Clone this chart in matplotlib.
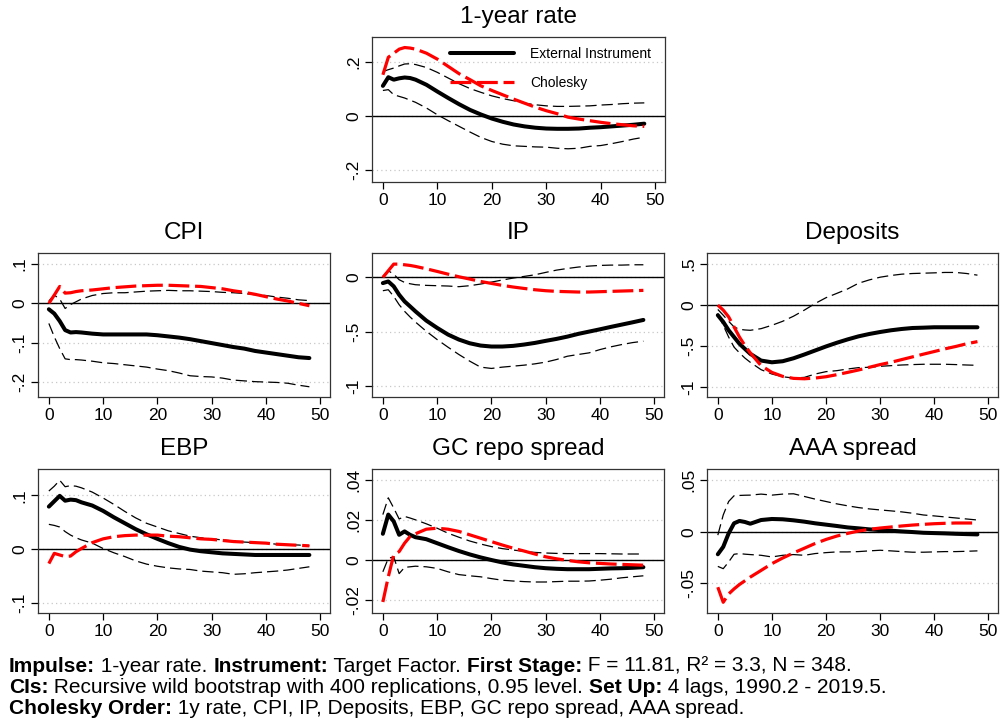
import matplotlib
matplotlib.use("Agg")
import matplotlib.pyplot as plt

plt.rcParams["font.family"] = ["Liberation Sans", "DejaVu Sans"]

# horizons (months)
horizon = [0, 1, 2, 3, 4, 5, 6] + list(range(8, 49, 2))

# 1-year rate
rate_ext = [0.112, 0.144, 0.135, 0.140, 0.143, 0.141, 0.135, 0.116, 0.091, 0.067, 0.044, 0.023, 0.006, -0.009,
            -0.021, -0.031, -0.038, -0.043, -0.046, -0.047, -0.047, -0.046, -0.043, -0.041, -0.038, -0.035,
            -0.032, -0.028]
rate_chol = [0.153, 0.218, 0.233, 0.248, 0.254, 0.252, 0.248, 0.233, 0.211, 0.184, 0.157, 0.135, 0.112, 0.095,
             0.079, 0.063, 0.048, 0.033, 0.020, 0.009, -0.004, -0.011, -0.017, -0.023, -0.028, -0.032, -0.036,
             -0.038]
rate_hi = [0.165, 0.172, 0.178, 0.186, 0.193, 0.194, 0.191, 0.180, 0.162, 0.141, 0.120, 0.102, 0.088, 0.075,
           0.065, 0.057, 0.048, 0.042, 0.038, 0.036, 0.036, 0.037, 0.038, 0.041, 0.043, 0.046, 0.048, 0.049]
rate_lo = [0.095, 0.098, 0.079, 0.073, 0.067, 0.059, 0.051, 0.030, 0.005, -0.017, -0.038, -0.059, -0.079, -0.094,
           -0.104, -0.110, -0.112, -0.114, -0.115, -0.119, -0.121, -0.119, -0.112, -0.109, -0.102, -0.094,
           -0.085, -0.078]

# CPI
cpi_ext = [-0.015, -0.026, -0.045, -0.068, -0.074, -0.073, -0.074, -0.077, -0.079, -0.079, -0.079, -0.079, -0.079,
           -0.081, -0.084, -0.087, -0.091, -0.096, -0.101, -0.106, -0.111, -0.115, -0.121, -0.125, -0.129,
           -0.133, -0.137, -0.139]
cpi_chol = [0.0, 0.021, 0.043, 0.026, 0.027, 0.030, 0.032, 0.034, 0.037, 0.040, 0.042, 0.044, 0.045, 0.046, 0.046,
            0.045, 0.044, 0.043, 0.040, 0.037, 0.032, 0.028, 0.023, 0.017, 0.011, 0.006, 0.0, -0.006]
cpi_hi = [0.006, 0.021, 0.011, -0.013, -0.003, 0.004, 0.011, 0.020, 0.025, 0.027, 0.027, 0.029, 0.031, 0.032,
          0.033, 0.032, 0.032, 0.031, 0.030, 0.028, 0.027, 0.025, 0.022, 0.020, 0.016, 0.013, 0.009, 0.007]
cpi_lo = [-0.051, -0.085, -0.115, -0.141, -0.143, -0.143, -0.144, -0.147, -0.151, -0.153, -0.156, -0.159, -0.162,
          -0.167, -0.171, -0.177, -0.184, -0.186, -0.187, -0.190, -0.195, -0.197, -0.199, -0.200, -0.201,
          -0.203, -0.208, -0.212]

# IP
ip_ext = [-0.052, -0.037, -0.082, -0.159, -0.220, -0.265, -0.311, -0.396, -0.463, -0.524, -0.570, -0.604, -0.625,
          -0.634, -0.634, -0.628, -0.616, -0.601, -0.582, -0.564, -0.543, -0.518, -0.497, -0.476, -0.454,
          -0.433, -0.412, -0.390]
ip_chol = [0.0, 0.061, 0.122, 0.122, 0.116, 0.110, 0.101, 0.079, 0.055, 0.030, 0.006, -0.015, -0.037, -0.055,
           -0.073, -0.088, -0.101, -0.113, -0.122, -0.128, -0.131, -0.134, -0.134, -0.131, -0.128, -0.125,
           -0.122, -0.119]
ip_hi = [0.009, 0.061, 0.030, -0.021, -0.046, -0.058, -0.067, -0.073, -0.076, -0.079, -0.085, -0.076, -0.061,
         -0.043, -0.024, -0.006, 0.009, 0.024, 0.046, 0.067, 0.082, 0.095, 0.104, 0.110, 0.113, 0.113, 0.116,
         0.116]
ip_lo = [-0.122, -0.113, -0.174, -0.250, -0.311, -0.362, -0.409, -0.494, -0.570, -0.640, -0.707, -0.768, -0.823,
         -0.835, -0.823, -0.814, -0.805, -0.793, -0.777, -0.753, -0.723, -0.707, -0.692, -0.662, -0.637,
         -0.616, -0.598, -0.585]

# Deposits
dep_ext = [-0.123, -0.205, -0.307, -0.389, -0.471, -0.533, -0.594, -0.676, -0.697, -0.684, -0.648, -0.602,
           -0.553, -0.504, -0.459, -0.418, -0.381, -0.352, -0.328, -0.307, -0.291, -0.279, -0.275, -0.270,
           -0.270, -0.270, -0.270, -0.270]
dep_chol = [0.0, -0.061, -0.143, -0.266, -0.389, -0.492, -0.582, -0.738, -0.820, -0.869, -0.893, -0.898, -0.889,
            -0.873, -0.848, -0.820, -0.791, -0.758, -0.725, -0.697, -0.664, -0.631, -0.598, -0.566, -0.533,
            -0.504, -0.471, -0.445]
dep_hi = [-0.053, -0.123, -0.197, -0.266, -0.295, -0.303, -0.307, -0.287, -0.246, -0.197, -0.135, -0.061, 0.020,
          0.090, 0.143, 0.197, 0.266, 0.307, 0.340, 0.361, 0.377, 0.385, 0.389, 0.393, 0.398, 0.398, 0.385,
          0.365]
dep_lo = [-0.102, -0.246, -0.389, -0.512, -0.582, -0.645, -0.697, -0.787, -0.840, -0.873, -0.889, -0.881, -0.840,
          -0.811, -0.799, -0.779, -0.762, -0.758, -0.746, -0.738, -0.730, -0.725, -0.721, -0.721, -0.721,
          -0.725, -0.730, -0.734]

# EBP
ebp_ext = [0.079, 0.089, 0.099, 0.090, 0.092, 0.091, 0.087, 0.081, 0.071, 0.059, 0.048, 0.037, 0.0275, 0.019,
           0.011, 0.004, -0.001, -0.004, -0.006, -0.008, -0.009, -0.010, -0.011, -0.011, -0.011, -0.011, -0.011,
           -0.011]
ebp_chol = [-0.027, -0.008, -0.011, -0.014, -0.013, -0.005, 0.001, 0.012, 0.019, 0.023, 0.025, 0.026, 0.026,
            0.026, 0.024, 0.023, 0.021, 0.019, 0.018, 0.016, 0.014, 0.013, 0.012, 0.011, 0.009, 0.008, 0.007,
            0.006]
ebp_hi = [0.108, 0.117, 0.128, 0.116, 0.118, 0.117, 0.114, 0.106, 0.095, 0.083, 0.070, 0.058, 0.048, 0.041,
          0.034, 0.029, 0.024, 0.021, 0.019, 0.017, 0.015, 0.013, 0.012, 0.011, 0.009, 0.008, 0.0075, 0.006]
ebp_lo = [0.046, 0.044, 0.041, 0.0325, 0.026, 0.021, 0.017, 0.011, 0.001, -0.007, -0.014, -0.022, -0.028,
          -0.032, -0.035, -0.037, -0.038, -0.041, -0.0425, -0.044, -0.047, -0.046, -0.044, -0.0425, -0.041,
          -0.039, -0.036, -0.033]

# GC repo spread
gc_ext = [0.0133, 0.0229, 0.0195, 0.0128, 0.0145, 0.0128, 0.0116, 0.0106, 0.0086, 0.0066, 0.0047, 0.0030, 0.0015,
          0.0002, -0.0010, -0.0020, -0.0027, -0.0034, -0.0039, -0.0042, -0.0044, -0.0044, -0.0044, -0.0042,
          -0.0040, -0.0039, -0.0037, -0.0034]
gc_chol = [-0.0208, -0.0082, 0.0027, 0.0044, 0.0086, 0.0119, 0.0133, 0.0156, 0.0161, 0.0156, 0.0145, 0.0128,
           0.0111, 0.0094, 0.0077, 0.0061, 0.0047, 0.0032, 0.0018, 0.0008, 0.0, -0.0007, -0.0012, -0.0015,
           -0.0018, -0.0020, -0.0022, -0.0024]
gc_hi = [0.0229, 0.0313, 0.0262, 0.0207, 0.0220, 0.0212, 0.0203, 0.0183, 0.0161, 0.0136, 0.0116, 0.0097, 0.0082,
         0.0069, 0.0059, 0.0052, 0.0045, 0.0040, 0.0037, 0.0035, 0.0034, 0.0034, 0.0034, 0.0034, 0.0033, 0.0032,
         0.0032, 0.0032]
gc_lo = [-0.0057, 0.0010, 0.0018, -0.0066, -0.0035, -0.0032, -0.0029, -0.0032, -0.0040, -0.0057, -0.0071,
         -0.0077, -0.0082, -0.0091, -0.0099, -0.0103, -0.0106, -0.0108, -0.0108, -0.0106, -0.0104, -0.0104,
         -0.0103, -0.0099, -0.0094, -0.0087, -0.0082, -0.0077]

# AAA spread
aaa_ext = [-0.0219, -0.0147, -0.0016, 0.0082, 0.0105, 0.0095, 0.0078, 0.0114, 0.0124, 0.0121, 0.0111, 0.0098,
           0.0082, 0.0069, 0.0056, 0.0042, 0.0033, 0.0023, 0.0016, 0.0010, 0.0003, -0.0003, -0.0010, -0.0013,
           -0.0016, -0.0020, -0.0023, -0.0026]
aaa_chol = [-0.0539, -0.0686, -0.0605, -0.0556, -0.0513, -0.0477, -0.0441, -0.0376, -0.0310, -0.0255, -0.0206,
            -0.0160, -0.0114, -0.0075, -0.0042, -0.0016, 0.0007, 0.0023, 0.0036, 0.0046, 0.0056, 0.0065, 0.0072,
            0.0078, 0.0082, 0.0085, 0.0085, 0.0085]
aaa_hi = [-0.0033, 0.0163, 0.0294, 0.0350, 0.0353, 0.0355, 0.0356, 0.0366, 0.0356, 0.0366, 0.0369, 0.0343,
          0.0317, 0.0294, 0.0271, 0.0252, 0.0235, 0.0222, 0.0212, 0.0203, 0.0193, 0.0180, 0.0163, 0.0154, 0.0144,
          0.0134, 0.0124, 0.0114]
aaa_lo = [-0.0337, -0.0359, -0.0294, -0.0219, -0.0212, -0.0218, -0.0222, -0.0229, -0.0245, -0.0229, -0.0222,
          -0.0229, -0.0212, -0.0203, -0.0196, -0.0196, -0.0193, -0.0186, -0.0180, -0.0186, -0.0193, -0.0199,
          -0.0199, -0.0196, -0.0193, -0.0193, -0.0190, -0.0186]

x_ticks = [0, 10, 20, 30, 40, 50]

# title, series, y limits, y ticks, y tick labels, axes rect (pixels: left, top, right, bottom)
panels = [
	("1-year rate", (rate_ext, rate_chol, rate_hi, rate_lo), (-0.244, 0.293), [-0.2, 0, 0.2], ["-.2", "0", ".2"],
	 (372, 37, 665, 182)),
	("CPI", (cpi_ext, cpi_chol, cpi_hi, cpi_lo), (-0.238, 0.128), [-0.2, -0.1, 0, 0.1], ["-.2", "-.1", "0", ".1"],
	 (38, 253, 330, 397)),
	("IP", (ip_ext, ip_chol, ip_hi, ip_lo), (-1.097, 0.224), [-1, -0.5, 0], ["-1", "-.5", "0"],
	 (372, 253, 664, 397)),
	("Deposits", (dep_ext, dep_chol, dep_hi, dep_lo), (-1.12, 0.635), [-1, -0.5, 0, 0.5], ["-1", "-.5", "0", ".5"],
	 (707, 253, 998, 397)),
	("EBP", (ebp_ext, ebp_chol, ebp_hi, ebp_lo), (-0.119, 0.149), [-0.1, 0, 0.1], ["-.1", "0", ".1"],
	 (38, 469, 330, 613)),
	("GC repo spread", (gc_ext, gc_chol, gc_hi, gc_lo), (-0.0263, 0.0457), [-0.02, 0, 0.02, 0.04],
	 ["-.02", "0", ".02", ".04"], (372, 469, 664, 613)),
	("AAA spread", (aaa_ext, aaa_chol, aaa_hi, aaa_lo), (-0.079, 0.061), [-0.05, 0, 0.05], ["-.05", "0", ".05"],
	 (707, 469, 998, 613)),
]

W, H = 1000, 718
fig = plt.figure(figsize=(W / 100, H / 100), dpi=100)

for i, (title, series, ylim, yticks, ylabels, rect) in enumerate(panels):
	left, top, right, bottom = rect
	ax = fig.add_axes([left / W, 1 - bottom / H, (right - left) / W, (bottom - top) / H])
	ext, chol, hi, lo = series

	for y in yticks:
		ax.axhline(y, color="#c8c8c8", linestyle=(0, (1, 2.5)), linewidth=0.9, zorder=0)
	ax.axhline(0, color="black", linewidth=1.0, zorder=1)

	ax.plot(horizon, hi, color="black", linewidth=0.9, linestyle=(0, (9, 4)), zorder=2)
	ax.plot(horizon, lo, color="black", linewidth=0.9, linestyle=(0, (9, 4)), zorder=2)
	ax.plot(horizon, ext, color="black", linewidth=2.9, solid_capstyle="round", zorder=3,
	        label="External Instrument")
	ax.plot(horizon, chol, color="#ff0000", linewidth=2.3, linestyle=(0, (6.5, 1.8)), zorder=4, label="Cholesky")

	ax.set_xlim(-2, 51.8)
	ax.set_ylim(*ylim)
	ax.set_xticks(x_ticks)
	ax.set_xticklabels([str(t) for t in x_ticks], fontsize=12.5)
	ax.set_yticks(yticks)
	ax.set_yticklabels(ylabels, fontsize=12.5, rotation=90, va="center")
	ax.tick_params(direction="out", length=5, width=0.9, pad=3)
	for sp in ax.spines.values():
		sp.set_linewidth(0.9)
		sp.set_color("#333333")
	ax.set_title(title, fontsize=17.5, pad=10)

	if i == 0:
		ax.legend(loc="upper left", bbox_to_anchor=(0.266, 0.93), frameon=False, fontsize=10,
		          handlelength=4.6, handletextpad=1.2, labelspacing=1.05, borderpad=0, borderaxespad=0)

# footer note with bold headings
footer = [
	[("Impulse:", True), (" 1-year rate. ", False), ("Instrument:", True), (" Target Factor. ", False),
	 ("First Stage:", True), (" F = 11.81, R\u00b2 = 3.3, N = 348.", False)],
	[("CIs:", True), (" Recursive wild bootstrap with 400 replications, 0.95 level. ", False),
	 ("Set Up:", True), (" 4 lags, 1990.2 - 2019.5.", False)],
	[("Cholesky Order:", True), (" 1y rate, CPI, IP, Deposits, EBP, GC repo spread, AAA spread.", False)],
]
footer_baseline = [672, 693, 714]

renderer = fig.canvas.get_renderer()
for pieces, y_px in zip(footer, footer_baseline):
	x_px = 9
	for text, bold in pieces:
		t = fig.text(x_px / W, 1 - y_px / H, text, fontsize=15, fontweight="bold" if bold else "normal",
		             va="baseline", ha="left")
		x_px += t.get_window_extent(renderer=renderer).width

fig.savefig("out.png", dpi=100)
